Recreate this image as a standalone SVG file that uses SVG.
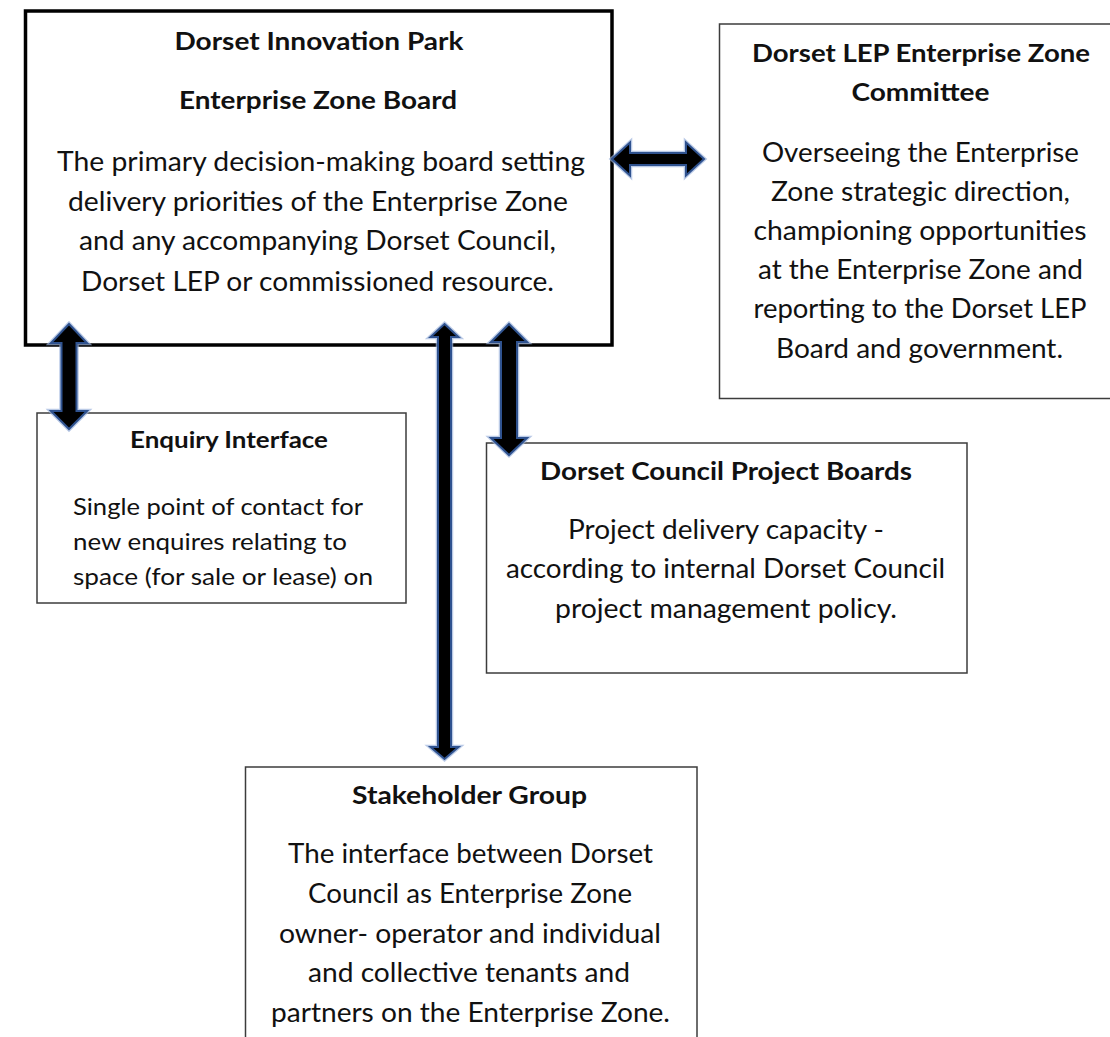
<svg xmlns="http://www.w3.org/2000/svg" xmlns:xlink="http://www.w3.org/1999/xlink" width="1110" height="1037" viewBox="0 0 1110 1037">
  <style>
    .box { fill: #ffffff; stroke: #3c3c3c; stroke-width: 1.5; }
    .box-main { fill: #ffffff; stroke: #000000; stroke-width: 3.5; }
    .t { font-family: Lato, "Open Sans", "Liberation Sans", sans-serif; fill: #111111; }
    .h { font-weight: bold; font-size: 25px; }
    .b { font-size: 26px; }
    .hs { font-weight: bold; font-size: 22px; }
    .bs { font-size: 23px; }
    .c { text-anchor: middle; }
    .halo { fill: none; stroke: #9db3dc; stroke-width: 4.5; stroke-linejoin: miter; opacity: 0.7; }
    .arrow { fill: #000000; stroke: #2f528f; stroke-width: 2; stroke-linejoin: miter; }
  </style>
  <defs>
    <!-- double-headed block arrows -->
    <polygon id="a-lep" points="612,159 630,142.5 630,153 686,153 686,142.5 704,159 686,175.5 686,165 630,165 630,175.5"/>
    <polygon id="a-enq" points="69,324 87,343 76.5,343 76.5,411 87,411 69,429 51,411 61.5,411 61.5,343 51,343"/>
    <polygon id="a-stk" points="444.5,324 458.5,337 451,337 451,747 458.5,747 444.5,759 430.5,747 438,747 438,337 430.5,337"/>
    <polygon id="a-prj" points="509,324 527,342 517,342 517,438 527,438 509,455 491,438 501,438 501,342 491,342"/>
  </defs>

  <rect width="1110" height="1037" fill="#ffffff"/>

  <g id="node-ez-board">
    <rect class="box-main" x="25.5" y="11" width="586.5" height="334"/>
    <text class="t h c" x="319" y="50" textLength="289" lengthAdjust="spacingAndGlyphs">Dorset Innovation Park</text>
    <text class="t h c" x="318" y="109" textLength="278" lengthAdjust="spacingAndGlyphs">Enterprise Zone Board</text>
    <text class="t b c" x="321" y="171" textLength="528" lengthAdjust="spacingAndGlyphs">The primary decision-making board setting</text>
    <text class="t b c" x="318" y="211" textLength="500" lengthAdjust="spacingAndGlyphs">delivery priorities of the Enterprise Zone</text>
    <text class="t b c" x="317.5" y="250" textLength="477" lengthAdjust="spacingAndGlyphs">and any accompanying Dorset Council,</text>
    <text class="t b c" x="317.5" y="291" textLength="473" lengthAdjust="spacingAndGlyphs">Dorset LEP or commissioned resource.</text>
  </g>

  <g id="node-lep-committee">
    <rect class="box" x="719.5" y="24" width="410" height="374.5"/>
    <text class="t h c" x="921" y="62" textLength="338" lengthAdjust="spacingAndGlyphs">Dorset LEP Enterprise Zone</text>
    <text class="t h c" x="920.5" y="101" textLength="138" lengthAdjust="spacingAndGlyphs">Committee</text>
    <text class="t b c" x="920.5" y="162" textLength="317" lengthAdjust="spacingAndGlyphs">Overseeing the Enterprise</text>
    <text class="t b c" x="920.5" y="201" textLength="299" lengthAdjust="spacingAndGlyphs">Zone strategic direction,</text>
    <text class="t b c" x="920" y="240" textLength="333" lengthAdjust="spacingAndGlyphs">championing opportunities</text>
    <text class="t b c" x="920.5" y="279" textLength="325" lengthAdjust="spacingAndGlyphs">at the Enterprise Zone and</text>
    <text class="t b c" x="920" y="318" textLength="333" lengthAdjust="spacingAndGlyphs">reporting to the Dorset LEP</text>
    <text class="t b c" x="919.5" y="358" textLength="287" lengthAdjust="spacingAndGlyphs">Board and government.</text>
  </g>

  <g id="node-enquiry">
    <rect class="box" x="37" y="413" width="369" height="190"/>
    <text class="t hs c" x="229" y="448" textLength="198" lengthAdjust="spacingAndGlyphs">Enquiry Interface</text>
    <text class="t bs" x="73" y="515" textLength="290" lengthAdjust="spacingAndGlyphs">Single point of contact for</text>
    <text class="t bs" x="73" y="550" textLength="274" lengthAdjust="spacingAndGlyphs">new enquires relating to</text>
    <text class="t bs" x="73" y="585" textLength="300" lengthAdjust="spacingAndGlyphs">space (for sale or lease) on</text>
  </g>

  <g id="node-project-boards">
    <rect class="box" x="486.5" y="443" width="480.5" height="230"/>
    <text class="t h c" x="726" y="480" textLength="372" lengthAdjust="spacingAndGlyphs">Dorset Council Project Boards</text>
    <text class="t b c" x="726" y="539" textLength="316" lengthAdjust="spacingAndGlyphs">Project delivery capacity -</text>
    <text class="t b c" x="725.5" y="578" textLength="439" lengthAdjust="spacingAndGlyphs">according to internal Dorset Council</text>
    <text class="t b c" x="726" y="618" textLength="342" lengthAdjust="spacingAndGlyphs">project management policy.</text>
  </g>

  <g id="node-stakeholder">
    <rect class="box" x="245.5" y="767" width="451.5" height="290"/>
    <text class="t h c" x="469.5" y="804" textLength="235" lengthAdjust="spacingAndGlyphs">Stakeholder Group</text>
    <text class="t b c" x="470.5" y="863" textLength="365" lengthAdjust="spacingAndGlyphs">The interface between Dorset</text>
    <text class="t b c" x="470" y="903" textLength="324" lengthAdjust="spacingAndGlyphs">Council as Enterprise Zone</text>
    <text class="t b c" x="470" y="943" textLength="382" lengthAdjust="spacingAndGlyphs">owner- operator and individual</text>
    <text class="t b c" x="469" y="982" textLength="322" lengthAdjust="spacingAndGlyphs">and collective tenants and</text>
    <text class="t b c" x="470.5" y="1022" textLength="399" lengthAdjust="spacingAndGlyphs">partners on the Enterprise Zone.</text>
  </g>

  <g id="connectors">
    <use xlink:href="#a-lep" class="halo"/>
    <use xlink:href="#a-lep" class="arrow"/>
    <use xlink:href="#a-enq" class="halo"/>
    <use xlink:href="#a-enq" class="arrow"/>
    <use xlink:href="#a-stk" class="halo"/>
    <use xlink:href="#a-stk" class="arrow"/>
    <use xlink:href="#a-prj" class="halo"/>
    <use xlink:href="#a-prj" class="arrow"/>
  </g>
</svg>
